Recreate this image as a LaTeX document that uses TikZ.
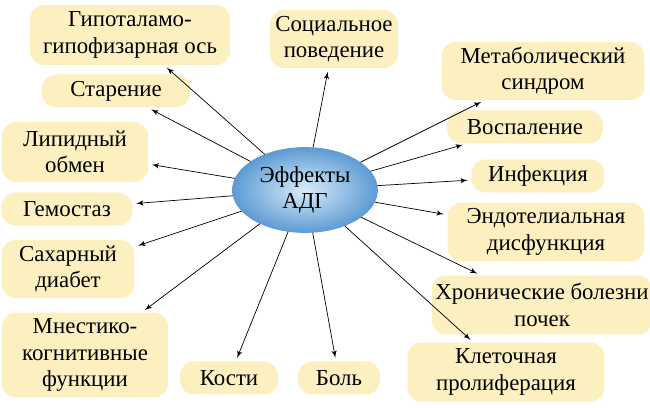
\documentclass[tikz,border=0pt]{standalone}
\usepackage{fontspec}
\setmainfont{Liberation Serif}
\usepackage{tikz}
\usetikzlibrary{arrows}
\usetikzlibrary{positioning}
\usetikzlibrary{shapes.geometric}
\definecolor{boxfill}{HTML}{FCEFC0}
\definecolor{hubin}{HTML}{D8ECFA}
\definecolor{hubout}{HTML}{5D9BD3}

\begin{document}
\begin{tikzpicture}[x=0.02cm,y=-0.02cm]

\tikzstyle{effect}=[fill=boxfill, rounded corners=8pt, align=center, inner sep=2pt, font=\fontsize{13}{15}\selectfont]
\tikzstyle{line}=[draw, thin, -latex', shorten >=2pt]
\tikzstyle{hub}=[ellipse, inner color=hubin, outer color=hubout, draw=hubout, minimum width=2.2cm, minimum height=1.7cm, align=center, font=\fontsize{13}{15}\selectfont]

\useasboundingbox (0,0) rectangle (650,408);

\node[hub] (adh) at (305,190) {Эффекты\\АДГ};

\node[effect, minimum width=4cm, minimum height=1.2cm] (hypothalamus) at (130,35) {Гипоталамо-\\гипофизарная ось};
\node[effect, minimum width=2.56cm, minimum height=1.16cm] (social) at (334,39) {Социальное\\поведение};
\node[effect, minimum width=4.06cm, minimum height=1.16cm] (metabolic) at (543,71) {Метаболический\\синдром};
\node[effect, minimum width=2.96cm, minimum height=0.66cm] (ageing) at (116,91) {Старение};
\node[effect, minimum width=3.12cm, minimum height=0.66cm] (inflammation) at (525,127) {Воспаление};
\node[effect, minimum width=2.92cm, minimum height=1.2cm] (lipid) at (75,152) {Липидный\\обмен};
\node[effect, minimum width=2.66cm, minimum height=0.66cm] (infection) at (538,176) {Инфекция};
\node[effect, minimum width=2.62cm, minimum height=0.66cm] (hemostasis) at (67,209) {Гемостаз};
\node[effect, minimum width=3.94cm, minimum height=1.18cm] (endothelial) at (546,232) {Эндотелиальная\\дисфункция};
\node[effect, minimum width=2.66cm, minimum height=1.16cm] (diabetes) at (68,269) {Сахарный\\диабет};
\node[effect, minimum width=4.1cm, minimum height=1.18cm] (kidney) at (542,305) {Хронические болезни\\почек};
\node[effect, minimum width=3.32cm, minimum height=1.7cm] (cognitive) at (85,355) {Мнестико-\\когнитивные\\функции};
\node[effect, minimum width=1.96cm, minimum height=0.66cm] (bones) at (229,378) {Кости};
\node[effect, minimum width=1.64cm, minimum height=0.66cm] (pain) at (339,378) {Боль};
\node[effect, minimum width=3.94cm, minimum height=1.18cm] (proliferation) at (506,372) {Клеточная\\пролиферация};

\path[line] (adh) -- (hypothalamus);
\path[line] (adh) -- (social);
\path[line] (adh) -- (metabolic);
\path[line] (adh) -- (ageing);
\path[line] (adh) -- (inflammation);
\path[line] (adh) -- (lipid);
\path[line] (adh) -- (infection);
\path[line] (adh) -- (hemostasis);
\path[line] (adh) -- (endothelial);
\path[line] (adh) -- (diabetes);
\path[line] (adh) -- (kidney);
\path[line] (adh) -- (cognitive);
\path[line] (adh) -- (bones);
\path[line] (adh) -- (pain);
\path[line] (adh) -- (proliferation);

\end{tikzpicture}
\end{document}
